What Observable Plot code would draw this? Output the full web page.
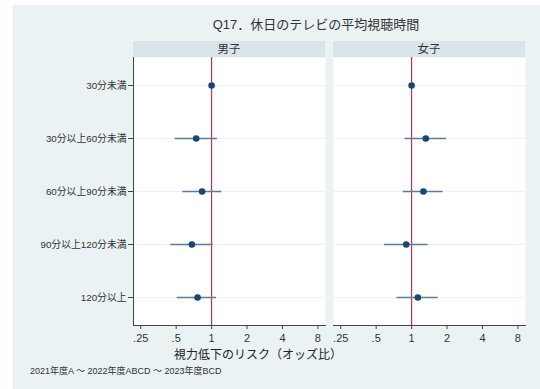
<!DOCTYPE html>
<html>
<head>
<meta charset="utf-8">
<script src="https://cdn.jsdelivr.net/npm/d3@7"></script>
<script src="https://cdn.jsdelivr.net/npm/@observablehq/plot@0.6"></script>
<style>
  body { margin: 0; background: #fff; }
  #wrap { position: relative; width: 540px; height: 389px; background: #fff; overflow: hidden;
          font-family: "Liberation Sans", "Noto Sans CJK JP", sans-serif; color: #333; }
  #bg { position: absolute; left: 13px; top: 5px; right: 0; bottom: 0; background: #eaf2f3; }
  #chart { position: absolute; left: 0; top: 0; }
  .txt { position: absolute; white-space: nowrap; line-height: 1; }
  .hdr { position: absolute; height: 16px; background: #d9e5eb; text-align: center;
         font-size: 11.5px; line-height: 17px; color: #333; }
</style>
</head>
<body>
<div id="wrap">
  <div id="bg"></div>
  <div id="chart"></div>
  <div class="txt" id="title" style="left:316px; top:18px; transform:translateX(-50%); font-size:13px;">Q17．休日のテレビの平均視聴時間</div>
  <div class="hdr" style="left:133px; top:41px; width:192px;">男子</div>
  <div class="hdr" style="left:333px; top:41px; width:192px;">女子</div>
  <div class="txt" id="xtitle" style="left:258px; top:349px; transform:translateX(-50%); font-size:12px; color:#222;">視力低下のリスク（オッズ比）</div>
  <div class="txt" id="caption" style="left:30px; top:367px; font-size:9px; color:#333;">2021年度A ～ 2022年度ABCD ～ 2023年度BCD</div>
</div>
<script>
const categories = ["30分未満", "30分以上60分未満", "60分以上90分未満", "90分以上120分未満", "120分以上"];
const sexes = ["男子", "女子"];
const maleOR = [1, 0.74, 0.83, 0.68, 0.76];
const maleLo = [null, 0.49, 0.57, 0.45, 0.51];
const maleHi = [null, 1.12, 1.22, 1.03, 1.10];
const femaleOR = [1, 1.32, 1.26, 0.90, 1.13];
const femaleLo = [null, 0.88, 0.85, 0.59, 0.75];
const femaleHi = [null, 1.98, 1.85, 1.38, 1.68];
const xTicks = [0.25, 0.5, 1, 2, 4, 8];
const xTickLabels = [".25", ".5", "1", "2", "4", "8"];

const rows = [];
categories.forEach((c, i) => {
  rows.push({sex: "男子", cat: c, or: maleOR[i], lo: maleLo[i], hi: maleHi[i]});
  rows.push({sex: "女子", cat: c, or: femaleOR[i], lo: femaleLo[i], hi: femaleHi[i]});
});
const ciRows = rows.filter(d => d.lo != null);

const chart = Plot.plot({
  width: 540,
  height: 389,
  marginLeft: 133,
  marginRight: 15,
  marginTop: 57,
  marginBottom: 64,
  style: {background: "transparent", fontFamily: "'Liberation Sans', 'Noto Sans CJK JP', sans-serif", color: "#333", overflow: "visible"},
  x: {type: "log", base: 2, domain: [0.217, 9.28]},
  y: {type: "point", domain: categories, padding: 0.5},
  fx: {domain: sexes, paddingInner: 0.04, paddingOuter: 0, axis: null},
  marks: [
    Plot.frame({fill: "white", stroke: null}),
    Plot.ruleY(categories, {y: d => d, stroke: "#eaf2f3", strokeWidth: 1}),
    Plot.ruleX([1], {stroke: "#cc1f45", strokeWidth: 1.1}),
    Plot.ruleY(ciRows, {fx: "sex", y: "cat", x1: "lo", x2: "hi", stroke: "#5a7b99", strokeWidth: 1.5}),
    Plot.dot(rows, {fx: "sex", x: "or", y: "cat", r: 3.3, fill: "#1a476f", stroke: null}),
    Plot.frame({anchor: "left", stroke: "#444", facetAnchor: "left"}),
    Plot.frame({anchor: "bottom", stroke: "#444"}),
    Plot.axisY({tickSize: 5, tickPadding: 2, label: null, fontSize: 9.8, stroke: "#444"}),
    Plot.axisX({ticks: xTicks, tickFormat: d => xTickLabels[xTicks.indexOf(d)], tickSize: 4, tickPadding: 5, label: null, fontSize: 11, stroke: "#444"})
  ]
});
document.getElementById("chart").appendChild(chart);
</script>
</body>
</html>
